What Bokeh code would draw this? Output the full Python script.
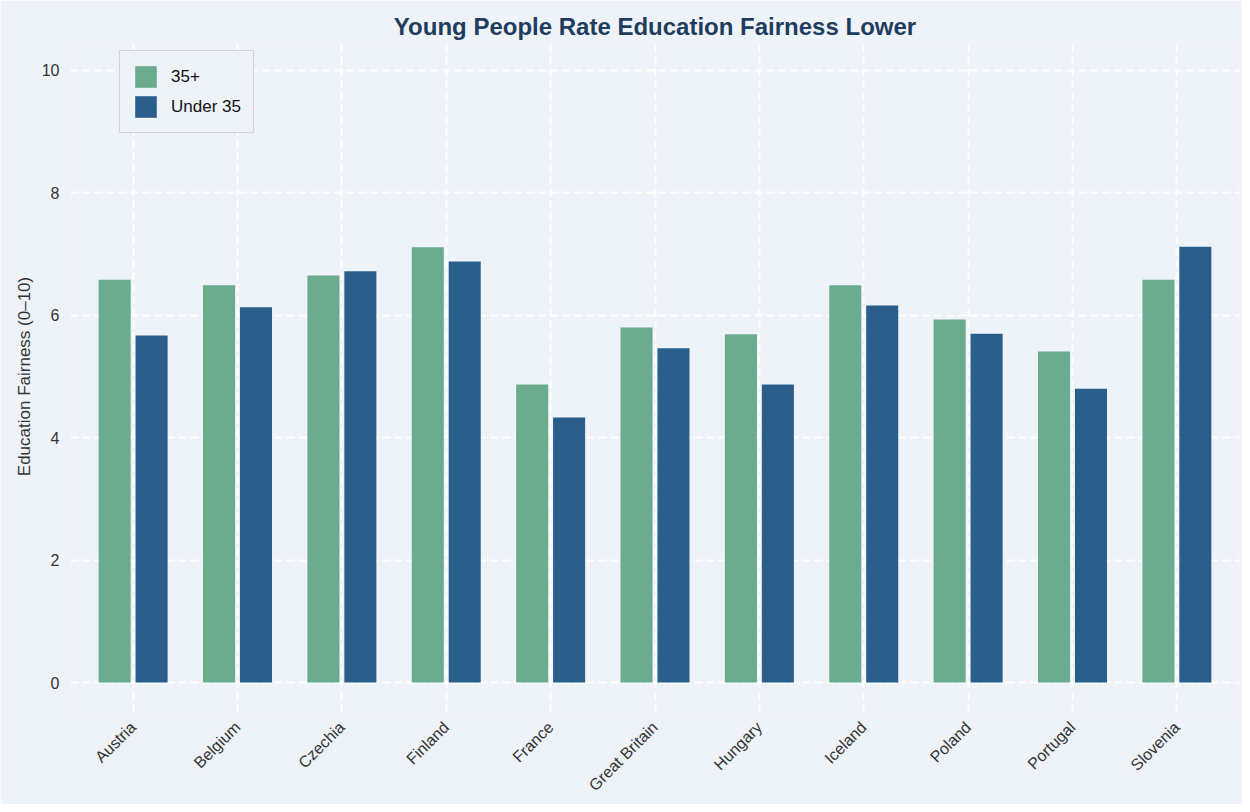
from bokeh.plotting import figure
from bokeh.models import ColumnDataSource, FactorRange, Range1d, Legend, LegendItem, FixedTicker
from bokeh.transform import dodge
from bokeh.embed import file_html
from bokeh.resources import INLINE
import math

countries = ["Austria", "Belgium", "Czechia", "Finland", "France", "Great Britain",
             "Hungary", "Iceland", "Poland", "Portugal", "Slovenia"]
over35 = [6.58, 6.49, 6.65, 7.11, 4.87, 5.80, 5.69, 6.49, 5.93, 5.41, 6.58]
under35 = [5.67, 6.13, 6.72, 6.88, 4.33, 5.46, 4.87, 6.16, 5.70, 4.80, 7.12]
y_ticks = [0, 2, 4, 6, 8, 10]

BG = "#eef3f9"
GREEN = "#6bab8e"
BLUE = "#2a5f8c"

src = ColumnDataSource(dict(country=countries, over35=over35, under35=under35))

xr = FactorRange(*countries, range_padding=0.1, range_padding_units="absolute")
p = figure(x_range=xr, y_range=Range1d(-0.49, 10.49), width=1242, height=804,
           output_backend="svg", toolbar_location=None,
           title="Young People Rate Education Fairness Lower",
           background_fill_color=BG, border_fill_color=BG,
           min_border_left=70, min_border_top=40, min_border_bottom=92, min_border_right=3)
p.outline_line_color = None

p.title.align = "center"
p.title.text_font = "Liberation Sans"
p.title.text_font_size = "24px"
p.title.text_font_style = "bold"
p.title.text_color = "#1f3d5e"
p.title.standoff = 2

r1 = p.vbar(x=dodge("country", -0.177, range=xr), top="over35", width=0.307, source=src,
            fill_color=GREEN, line_color=None)
r2 = p.vbar(x=dodge("country", 0.177, range=xr), top="under35", width=0.307, source=src,
            fill_color=BLUE, line_color=None)

for ax in (p.xaxis[0], p.yaxis[0]):
    ax.axis_line_color = None
    ax.major_tick_line_color = None
    ax.minor_tick_line_color = None
    ax.major_label_text_font = "Liberation Sans"
    ax.major_label_text_font_size = "16px"
    ax.major_label_text_color = "#333333"

p.yaxis[0].ticker = FixedTicker(ticks=y_ticks)
p.yaxis[0].axis_label = "Education Fairness (0\u201310)"
p.yaxis[0].axis_label_text_font = "Liberation Sans"
p.yaxis[0].axis_label_text_font_size = "17px"
p.yaxis[0].axis_label_text_font_style = "normal"
p.yaxis[0].axis_label_text_color = "#333333"
p.xaxis[0].major_label_orientation = math.pi / 4
p.xaxis[0].major_label_standoff = 6

for g in (p.xgrid[0], p.ygrid[0]):
    g.grid_line_color = "white"
    g.grid_line_width = 2
    g.grid_line_dash = "8 4"
    g.grid_line_alpha = 0.95

legend = Legend(items=[LegendItem(label="35+", renderers=[r1]),
                       LegendItem(label="Under 35", renderers=[r2])],
                location=(49, 579))
legend.background_fill_color = BG
legend.background_fill_alpha = 1
legend.border_line_color = "#b5b5b5"
legend.border_line_width = 1
legend.label_text_font = "Liberation Sans"
legend.label_text_font_size = "17px"
legend.label_text_color = "#111111"
legend.glyph_width = 27
legend.glyph_height = 27
legend.spacing = 3
legend.padding = 12
legend.margin = 0
legend.label_standoff = 12
p.add_layout(legend, "center")

open("out.html", "w").write(file_html(p, INLINE))
